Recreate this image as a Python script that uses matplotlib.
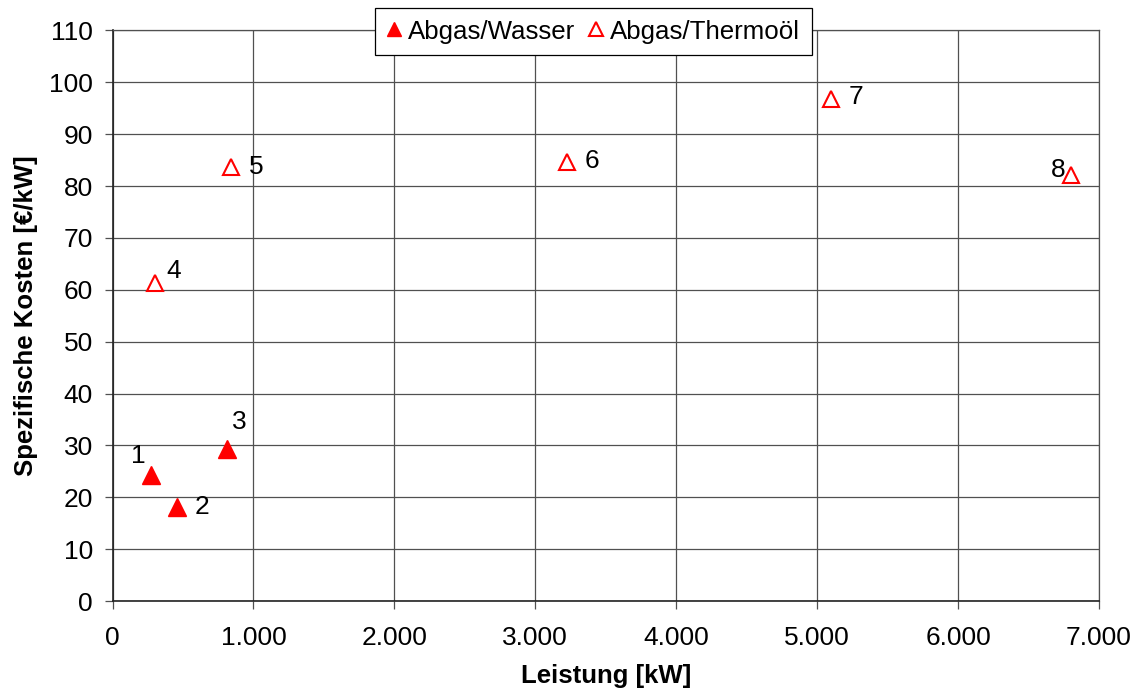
import matplotlib
matplotlib.use("Agg")
import matplotlib.pyplot as plt
from matplotlib.ticker import FuncFormatter, MultipleLocator

plt.rcParams['font.family'] = ['Liberation Sans', 'DejaVu Sans']

# Data
water_x = [271, 457, 811]
water_y = [24.3, 18.1, 29.4]
water_labels = ["1", "2", "3"]
oil_x = [300, 839, 3224, 5097, 6800]
oil_y = [61.4, 83.7, 84.6, 96.8, 82.2]
oil_labels = ["4", "5", "6", "7", "8"]

series_names = ["Abgas/Wasser", "Abgas/Thermoöl"]
x_label = "Leistung [kW]"
y_label = "Spezifische Kosten [€/kW]"

# label offsets in pixels (dx, dy)
offsets = {"1": (-12, 19), "2": (25, 0), "3": (12, 27), "4": (19, 12),
           "5": (25, 0), "6": (25, 1), "7": (25, 2), "8": (-13, 5)}

fig = plt.figure(figsize=(11.38, 6.91), dpi=100)
ax = fig.add_axes([0.0989, 0.1302, 0.8668, 0.8257])

grid_col = "#505050"
ax.set_xlim(0, 7000)
ax.set_ylim(0, 110)
ax.xaxis.set_major_locator(MultipleLocator(1000))
ax.yaxis.set_major_locator(MultipleLocator(10))
ax.xaxis.set_major_formatter(FuncFormatter(lambda v, p: f"{int(v):,}".replace(",", ".")))
ax.grid(True, color=grid_col, linewidth=0.9)
ax.set_axisbelow(True)

for s in ["top", "right"]:
    ax.spines[s].set_color(grid_col)
    ax.spines[s].set_linewidth(0.9)
for s in ["left", "bottom"]:
    ax.spines[s].set_color("#222222")
    ax.spines[s].set_linewidth(1.2)

ax.tick_params(axis="both", direction="out", length=6, width=0.9, color=grid_col,
               labelsize=19)
ax.tick_params(axis="y", pad=8)
ax.tick_params(axis="x", pad=12)

ax.plot(water_x, water_y, linestyle="none", marker="^", markersize=12.7,
        color="#ff0000", markeredgecolor="#ff0000", label=series_names[0], zorder=3)
ax.plot(oil_x, oil_y, linestyle="none", marker="^", markersize=12,
        markerfacecolor="white", markeredgecolor="#ff0000", markeredgewidth=1.5,
        label=series_names[1], zorder=3)

for xs, ys, labs in [(water_x, water_y, water_labels), (oil_x, oil_y, oil_labels)]:
    for x, y, t in zip(xs, ys, labs):
        dx, dy = offsets[t]
        ax.annotate(t, (x, y), xytext=(dx, dy), textcoords="offset pixels",
                    ha="center", va="center", fontsize=19, color="black")

ax.set_xlabel(x_label, fontsize=18.5, fontweight="bold", labelpad=10)
ax.set_ylabel(y_label, fontsize=18.5, fontweight="bold", labelpad=8)

leg = ax.legend(loc="center", bbox_to_anchor=(0.5214, 0.9544), bbox_transform=fig.transFigure,
                ncol=2, fontsize=18.6, frameon=True, fancybox=False, edgecolor="black",
                framealpha=1, handlelength=0.6, handletextpad=0.25, columnspacing=0.5,
                borderpad=0.45, markerscale=0.8, borderaxespad=0)
leg.get_frame().set_linewidth(0.9)
leg.set_zorder(10)

fig.savefig("out.png", dpi=100)
